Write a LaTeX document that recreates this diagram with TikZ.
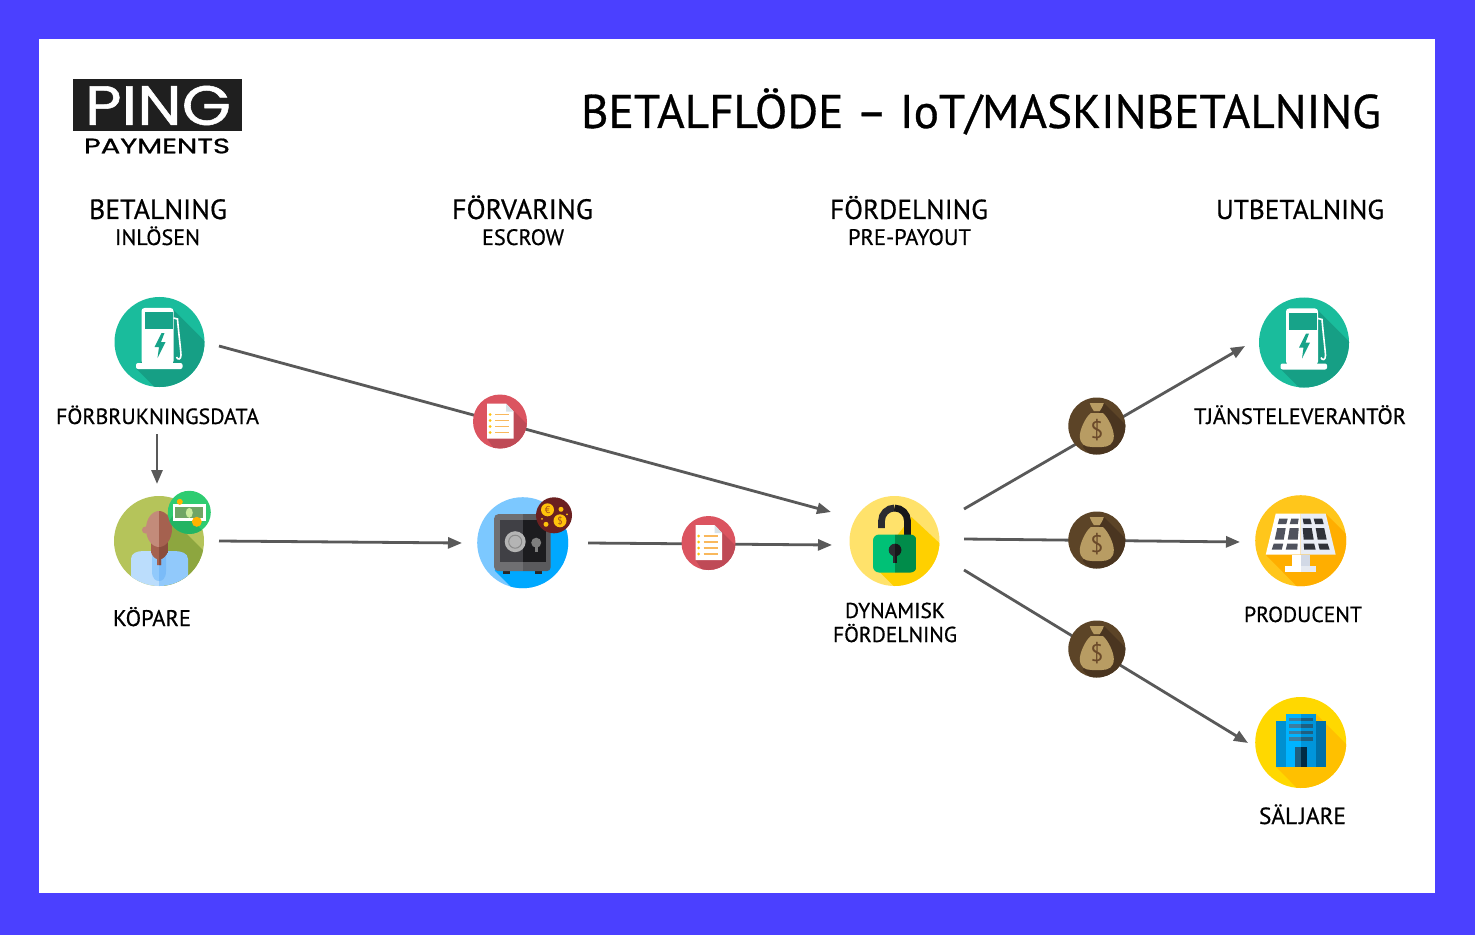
\documentclass[tikz,border=0pt]{standalone}
\usepackage{fontspec}
\setmainfont{PT Sans}[FakeBold=0.6]
\newfontfamily\logofont{Poppins}[FakeBold=0.9]
\newfontfamily\glyphfont{PT Sans}
\usetikzlibrary{arrows.meta}
\definecolor{frameblue}{HTML}{4B40FF}
\definecolor{flowgray}{HTML}{595959}
\newlength{\fitlen}
\newcommand{\fitw}[2]{\setlength{\fitlen}{#1pt}\divide\fitlen by 2 \resizebox{\fitlen}{!}{#2}}
\tikzset{
  x=0.5pt,y=-0.5pt,
  flow/.style={draw=flowgray,line width=1.4pt,-{Triangle[length=7pt,width=5.5pt]}},
  lbl/.style={inner sep=0pt,anchor=base,font=\fontsize{20}{24}\selectfont\addfontfeature{FakeBold=0.6}},
  disc/.style n args={2}{circle,inner sep=0pt,minimum size=#1*0.5pt,fill=#2},
  small glyph/.style={inner sep=0pt,font=\glyphfont\fontsize{#1}{#1}\selectfont},
  pumpicon/.pic={
    \begin{scope}
      \clip (0,0) circle[radius=45];
      \fill[pumpdark] (14,-32) -- (84,38) -- (37,87) -- (-23,27) -- cycle;
    \end{scope}
    \fill[white,rounded corners=1.5pt] (-18,-34) rectangle (14,22);
    \fill[white,rounded corners=1pt] (-23.5,21) rectangle (23,27);
    \fill[pumpscreen] (-15,-30) rectangle (13,-13);
    \fill[pumpscreen] (2,-9) -- (-5,5) -- (-0.5,5) -- (-2,16) -- (6,0) -- (1.5,0) -- (5,-9) -- cycle;
    \draw[white,line width=0.8pt] (14,-24) -- (18,-23) .. controls (19,-10) and (21,5) .. (21.5,13) .. controls (21.5,18) and (18,18) .. (17,15);
  },
  personicon/.pic={
    \begin{scope}
      \clip (0,0) circle[radius=45];
      \fill[personleaf] (8,-27) -- (60,25) -- (60,60) -- (0,60) -- (0,-10) -- cycle;
      \fill[shirtlight] (-28,45) -- (-28,18) .. controls (-28,12) and (-22,10) .. (-15,10) -- (0,10) -- (0,50) -- cycle;
      \fill[shirtdark] (29,45) -- (29,18) .. controls (29,12) and (22,10) .. (15,10) -- (0,10) -- (0,50) -- cycle;
      \fill[shirtdark] (-7,10) -- (-7,30) .. controls (-7,38) and (-3,40) .. (0,40) -- (0,10) -- cycle;
      \fill[shirtmid] (7,10) -- (7,30) .. controls (7,38) and (3,40) .. (0,40) -- (0,10) -- cycle;
    \end{scope}
    \fill[neckdark] (-8,0) rectangle (0,12);
    \fill[neckdarker] (0,0) rectangle (9,12);
    \fill[neckdark] (-8,10) .. controls (-8,15) and (-3,18) .. (-2,18) -- (-2,24) -- (2,24) -- (2,18) .. controls (3,18) and (8,15) .. (8,10) -- cycle;
    \fill[neckdarker] (0,10) -- (9,10) .. controls (8,15) and (3,18) .. (2,18) -- (2,24) -- (0,24) -- cycle;
    \fill[skinlight] (-13.5,-11) circle[radius=3.5];
    \fill[skinlight] (0,-30) arc[start angle=90,end angle=270,x radius=13,y radius=-18] -- cycle;
    \fill[skindark] (0,-30) arc[start angle=90,end angle=-90,x radius=13,y radius=-18] -- cycle;
  },
  personbadge/.pic={
    \fill[badgedark] (-10,-5) -- (30,35) -- (0,40) -- (-25,15) -- cycle;
    \fill[white] (-16.5,-8) rectangle (17,8.5);
    \fill[billgreen] (-14,-5.5) rectangle (14,6);
    \fill[billoval] (0,0.5) ellipse[x radius=3.5,y radius=5];
    \fill[coinorange] (7.5,9.5) circle[radius=5];
    \fill[coinorange] (-9.5,-10.5) circle[radius=3];
  },
  safeicon/.pic={
    \begin{scope}
      \clip (0,0) circle[radius=45.5];
      \fill[safeshadow] (-28,28) -- (40,96) -- (96,40) -- (28,-28) -- cycle;
    \end{scope}
    \fill[black!85] (-20,28) rectangle (-13,31);
    \fill[black!85] (12,28) rectangle (19,31);
    \begin{scope}
      \clip[rounded corners=2pt] (-28.5,-28.5) rectangle (28,28.5);
      \fill[safeouter] (-29,-29) rectangle (0,29);
      \fill[safeouterdark] (0,-29) rectangle (29,29);
    \end{scope}
    \fill[safeinner] (-23,-23) rectangle (0,19);
    \fill[safeinnerdark] (0,-23) rectangle (23,19);
    \fill[dialgray] (-7.5,-1) circle[radius=10.5];
    \draw[dialdark,line width=0.5pt] (-7.5,-1) circle[radius=6.5];
    \fill[dialgray!70!black] (13.5,0) circle[radius=5];
    \fill[dialgray!70!black] (12,0) rectangle (15,9);
  },
  safebadge/.pic={
    \fill[coinyellow] (-6.5,-5.5) circle[radius=6.5];
    \fill[coinyellow] (6,5.5) circle[radius=6.5];
    \fill[coinyellow] (7,-6) circle[radius=2.5];
    \fill[coinyellow] (-8,9) circle[radius=2.5];
    \fill[coinyellow] (-12,3.5) circle[radius=1];
    \fill[coinyellow] (13,-1) circle[radius=1];
    \node[small glyph=5,text=coinbrown] (-euro) at (-6.5,-5.5) {€};
    \node[small glyph=5,text=coinbrown] (-dollar) at (6,5.5) {\$};
  },
  docicon/.pic={
    \begin{scope}
      \clip (0,0) circle[radius=27];
      \fill[docshadow] (13.5,-11) -- (50,26) -- (16,60) -- (-13,17) -- cycle;
    \end{scope}
    \fill[white] (-13,-18) -- (6,-18) -- (13.5,-10) -- (13.5,17) -- (-13,17) -- cycle;
    \fill[foldblue] (6,-18) -- (13.5,-10) -- (6,-10) -- cycle;
    \foreach \y in {-7,-1,5,11} {
      \fill[coinyellow] (-10,\y) circle[radius=1.5];
      \draw[docline,line width=0.55pt] (-5,\y) -- (9,\y);
    }
  },
  lockicon/.pic={
    \begin{scope}
      \clip (0,0) circle[radius=45];
      \fill[lockshadow] (-21,25) -- (45,91) -- (91,45) -- (17,-24) -- cycle;
    \end{scope}
    \draw[lockdark,line width=3.4pt] (-13,-13) -- (-13,-20) arc[start angle=180,end angle=270,radius=13];
    \draw[lockblack,line width=3.4pt] (0,-33) arc[start angle=270,end angle=360,radius=13] -- (13,-6);
    \begin{scope}
      \clip[rounded corners=3pt] (-21.5,-6.5) rectangle (22,31.5);
      \fill[lockgreen] (-22,-7) rectangle (0.5,32);
      \fill[lockgreendark] (0.5,-7) rectangle (22,32);
    \end{scope}
    \fill[lockdark] (0.5,9) circle[radius=6.3];
    \fill[lockdark] (-1.3,9) rectangle (2.3,21.5);
    \fill[lockblack] (0.5,2.7) arc[start angle=90,end angle=-90,x radius=6.3,y radius=-6.3] -- cycle;
    \fill[lockblack] (0.5,9) rectangle (2.3,21.5);
  },
  bagicon/.pic={
    \begin{scope}
      \clip (0,0) circle[radius=28.5];
      \fill[bagshadow] (7,-23) -- (60,30) -- (30,67) -- (-14,21) -- cycle;
    \end{scope}
    \fill[bagtan] (-7,-23) -- (7,-23) .. controls (6,-19) and (4,-17) .. (3,-15) -- (-3,-15) .. controls (-4,-17) and (-6,-19) .. (-7,-23) -- cycle;
    \fill[bagtan] (-6,-13) .. controls (-12,-8) and (-17,4) .. (-17,10) .. controls (-17,18) and (-12,21) .. (-5,21) -- (5,21) .. controls (12,21) and (17,18) .. (17,10) .. controls (17,4) and (12,-8) .. (6,-13) -- cycle;
    \node[small glyph=12,text=bagbrown] (-dollar) at (0,4) {\$};
  },
  solaricon/.pic={
    \begin{scope}
      \clip (0,0) circle[radius=45.5];
      \fill[solarshadow] (25,-27) -- (75,23) -- (30,80) -- (-35,14) -- cycle;
    \end{scope}
    \fill[white] (-9,14) rectangle (0,25);
    \fill[paneedge] (0,14) rectangle (9,25);
    \fill[white] (-15.5,25) rectangle (0,31);
    \fill[paneedge!55!white] (0,25) rectangle (15.5,31);
    \fill[white] (-25,-27) -- (0,-27) -- (0,14) -- (-35,14) -- cycle;
    \fill[panelight] (25,-27) -- (0,-27) -- (0,14) -- (35,14) -- cycle;
    \fill[cellgray] (-21.5,-22) -- (-13,-22) -- (-14.5,-16.5) -- (-23,-16.5) -- cycle;
    \fill[cellgray] (-9.5,-22) -- (-2,-22) -- (-3,-16.5) -- (-11,-16.5) -- cycle;
    \fill[celldark] (2,-22) -- (9.5,-22) -- (11,-16.5) -- (3,-16.5) -- cycle;
    \fill[celldark] (13,-22) -- (21.5,-22) -- (23,-16.5) -- (14.5,-16.5) -- cycle;
    \fill[cellgray] (-23.5,-12.5) -- (-15,-12.5) -- (-17,-1) -- (-26,-1) -- cycle;
    \fill[cellgray] (-11,-12.5) -- (-2,-12.5) -- (-3,-1) -- (-13,-1) -- cycle;
    \fill[celldark] (2,-12.5) -- (11,-12.5) -- (13,-1) -- (3,-1) -- cycle;
    \fill[celldark] (15,-12.5) -- (23.5,-12.5) -- (26,-1) -- (17,-1) -- cycle;
    \fill[cellgray] (-27,3) -- (-17.5,3) -- (-19,9) -- (-29,9) -- cycle;
    \fill[cellgray] (-13.5,3) -- (-3,3) -- (-3.5,9) -- (-15,9) -- cycle;
    \fill[celldark] (3,3) -- (13.5,3) -- (15,9) -- (3.5,9) -- cycle;
    \fill[celldark] (17.5,3) -- (27,3) -- (29,9) -- (19,9) -- cycle;
  },
  buildingicon/.pic={
    \begin{scope}
      \clip (0,0) circle[radius=45.5];
      \fill[buildshadow] (15,-29) -- (75,31) -- (40,90) -- (-25,24) -- cycle;
    \end{scope}
    \fill[wingleft] (-25,-22) rectangle (0,24);
    \fill[wingright] (0,-22) rectangle (25,24);
    \fill[towerleft] (-15,-29) rectangle (0,24);
    \fill[towerright] (0,-29) rectangle (15,24);
    \foreach \y in {-25,-18.5,-12,-5.5} {
      \fill[barleft] (-12,\y) rectangle (0,\y+3.5);
      \fill[barright] (0,\y) rectangle (12,\y+3.5);
    }
    \fill[barright] (-6,4) rectangle (0,24);
    \fill[doordark] (0,4) rectangle (6,24);
  }
}
\definecolor{pumpteal}{HTML}{1ABC9C}\definecolor{pumpdark}{HTML}{169F85}\definecolor{pumpscreen}{HTML}{17A389}
\definecolor{personleaf}{HTML}{8DA63F}\definecolor{persongreen}{HTML}{B5C45A}\definecolor{shirtlight}{HTML}{BBDDFC}\definecolor{shirtdark}{HTML}{91C9FB}\definecolor{shirtmid}{HTML}{7ABBF8}
\definecolor{skinlight}{HTML}{C38B7A}\definecolor{skindark}{HTML}{A5614F}\definecolor{neckdark}{HTML}{A5614F}\definecolor{neckdarker}{HTML}{8A4D3D}
\definecolor{badgegreen}{HTML}{2ECC71}\definecolor{badgedark}{HTML}{22B463}\definecolor{billgreen}{HTML}{6FA565}\definecolor{billoval}{HTML}{C9EA9C}\definecolor{coinorange}{HTML}{FFB300}
\definecolor{safeblue}{HTML}{7CC8FF}\definecolor{safeshadow}{HTML}{00A8FF}\definecolor{safeouter}{HTML}{6F6F72}\definecolor{safeouterdark}{HTML}{5A5A5D}\definecolor{safeinner}{HTML}{404045}\definecolor{safeinnerdark}{HTML}{1C1C1F}\definecolor{dialgray}{HTML}{B4B4B4}\definecolor{dialdark}{HTML}{8A8A8A}
\definecolor{safebadgecol}{HTML}{6B2020}\definecolor{coinyellow}{HTML}{FFC30B}\definecolor{coinbrown}{HTML}{A8501A}
\definecolor{docred}{HTML}{DB5460}\definecolor{docshadow}{HTML}{BF4A56}\definecolor{foldblue}{HTML}{D8E2E8}\definecolor{docline}{HTML}{F9B85C}
\definecolor{lockyellow}{HTML}{FFE26B}\definecolor{lockshadow}{HTML}{FFD000}\definecolor{lockdark}{HTML}{2B2B30}\definecolor{lockblack}{HTML}{17171A}\definecolor{lockgreen}{HTML}{00C176}\definecolor{lockgreendark}{HTML}{008C4A}
\definecolor{bagrim}{HTML}{5C4427}\definecolor{bagshadow}{HTML}{4A3520}\definecolor{bagtan}{HTML}{B89C63}\definecolor{bagbrown}{HTML}{6B4A2A}
\definecolor{solarbase}{HTML}{FFC61B}\definecolor{solarshadow}{HTML}{FFAE00}\definecolor{panelight}{HTML}{E9EDF5}\definecolor{paneedge}{HTML}{D2D9E6}\definecolor{cellgray}{HTML}{50535E}\definecolor{celldark}{HTML}{2F3239}
\definecolor{buildbase}{HTML}{FFD800}\definecolor{buildshadow}{HTML}{FFC000}\definecolor{wingleft}{HTML}{0090D0}\definecolor{wingright}{HTML}{0070A8}\definecolor{towerleft}{HTML}{00B4FF}\definecolor{towerright}{HTML}{0095DB}\definecolor{barleft}{HTML}{3D7EA0}\definecolor{barright}{HTML}{1F5F80}\definecolor{doordark}{HTML}{002B45}
\begin{document}
\begin{tikzpicture}
\useasboundingbox (0,0) rectangle (1475,935);
\fill[frameblue] (0,0) rectangle (1475,935);
\fill[white] (39,39) rectangle (1435,893);

% logo
\fill[black!88] (73,79.5) rectangle (241.5,131.5);
\node[inner sep=0pt,text=white] (logoping) at (158,105.5) {\resizebox{73pt}{19.5pt}{\logofont PING}};
\node[inner sep=0pt] (logopay) at (157,146) {\resizebox{73pt}{7.4pt}{\logofont PAYMENTS}};

% connector ends
\coordinate (pumpOut) at (219,346);
\coordinate (lockInA) at (831,512);
\coordinate (dataOut) at (157,434);
\coordinate (buyerIn) at (157,484);
\coordinate (buyerOut) at (219,541);
\coordinate (safeIn) at (462,543);
\coordinate (safeOut) at (588,543);
\coordinate (lockInB) at (832,545);
\coordinate (lockOutA) at (964,509);
\coordinate (supplierIn) at (1245,346);
\coordinate (lockOutB) at (964,539);
\coordinate (producerIn) at (1240,542);
\coordinate (lockOutC) at (964,570);
\coordinate (sellerIn) at (1248,743);

\draw[flow] (pumpOut) -- (lockInA);
\draw[flow] (dataOut) -- (buyerIn);
\draw[flow] (buyerOut) -- (safeIn);
\draw[flow] (safeOut) -- (lockInB);
\draw[flow] (lockOutA) -- (supplierIn);
\draw[flow] (lockOutB) -- (producerIn);
\draw[flow] (lockOutC) -- (sellerIn);

% icons
\node[disc={90}{pumpteal}] (pumpA) at (159.5,342) {};
\pic at (pumpA) {pumpicon};
\node[disc={90}{pumpteal}] (pumpB) at (1304,342.5) {};
\pic at (pumpB) {pumpicon};

\node[disc={90}{persongreen}] (buyer) at (159,541) {};
\pic at (buyer) {personicon};
\begin{scope}
\node[disc={43}{badgegreen}] (buyerbadge) at (189.3,512.3) {};
\clip (189.3,512.3) circle[radius=21.7];
\pic at (buyerbadge) {personbadge};
\end{scope}

\node[disc={91}{safeblue}] (safe) at (522.7,542.7) {};
\pic at (safe) {safeicon};
\node[disc={36}{safebadgecol}] (safebadge) at (554,515.3) {};
\pic at (safebadge) {safebadge};

\node[disc={54}{docred}] (docA) at (500,421.5) {};
\pic at (docA) {docicon};
\node[disc={54}{docred}] (docB) at (708.5,543) {};
\pic at (docB) {docicon};

\node[disc={90}{lockyellow}] (lock) at (894.5,541) {};
\pic at (lock) {lockicon};

\node[disc={57}{bagrim}] (bagA) at (1096.8,426) {};
\pic at (bagA) {bagicon};
\node[disc={57}{bagrim}] (bagB) at (1096.8,540) {};
\pic at (bagB) {bagicon};
\node[disc={57}{bagrim}] (bagC) at (1096.8,649) {};
\pic at (bagC) {bagicon};

\node[disc={91}{solarbase}] (solar) at (1300.7,540.7) {};
\pic at (solar) {solaricon};
\node[disc={91}{buildbase}] (building) at (1300.7,742.5) {};
\pic at (building) {buildingicon};

% texts
\node[lbl] (title) at (981,128) {\fitw{800}{BETALFLÖDE – IoT/MASKINBETALNING}};
\node[lbl] (h1) at (158,219) {\fitw{138}{BETALNING}};
\node[lbl] (h1s) at (157.5,245) {\fitw{85}{INLÖSEN}};
\node[lbl] (h2) at (522.5,219) {\fitw{141}{FÖRVARING}};
\node[lbl] (h2s) at (523,245) {\fitw{82}{ESCROW}};
\node[lbl] (h3) at (909,219) {\fitw{158}{FÖRDELNING}};
\node[lbl] (h3s) at (909.5,245) {\fitw{123}{PRE-PAYOUT}};
\node[lbl] (h4) at (1300,219) {\fitw{168}{UTBETALNING}};
\node[lbl] (t1) at (157.5,424) {\fitw{203}{FÖRBRUKNINGSDATA}};
\node[lbl] (t2) at (152,626) {\fitw{78}{KÖPARE}};
\node[lbl] (t3) at (895,618) {\fitw{100}{DYNAMISK}};
\node[lbl] (t4) at (895,642) {\fitw{124}{FÖRDELNING}};
\node[lbl] (t5) at (1300,424) {\fitw{212}{TJÄNSTELEVERANTÖR}};
\node[lbl] (t6) at (1303,622) {\fitw{118}{PRODUCENT}};
\node[lbl] (t7) at (1302.5,824) {\fitw{87}{SÄL\kern0.09em JARE}};
\end{tikzpicture}
\end{document}
